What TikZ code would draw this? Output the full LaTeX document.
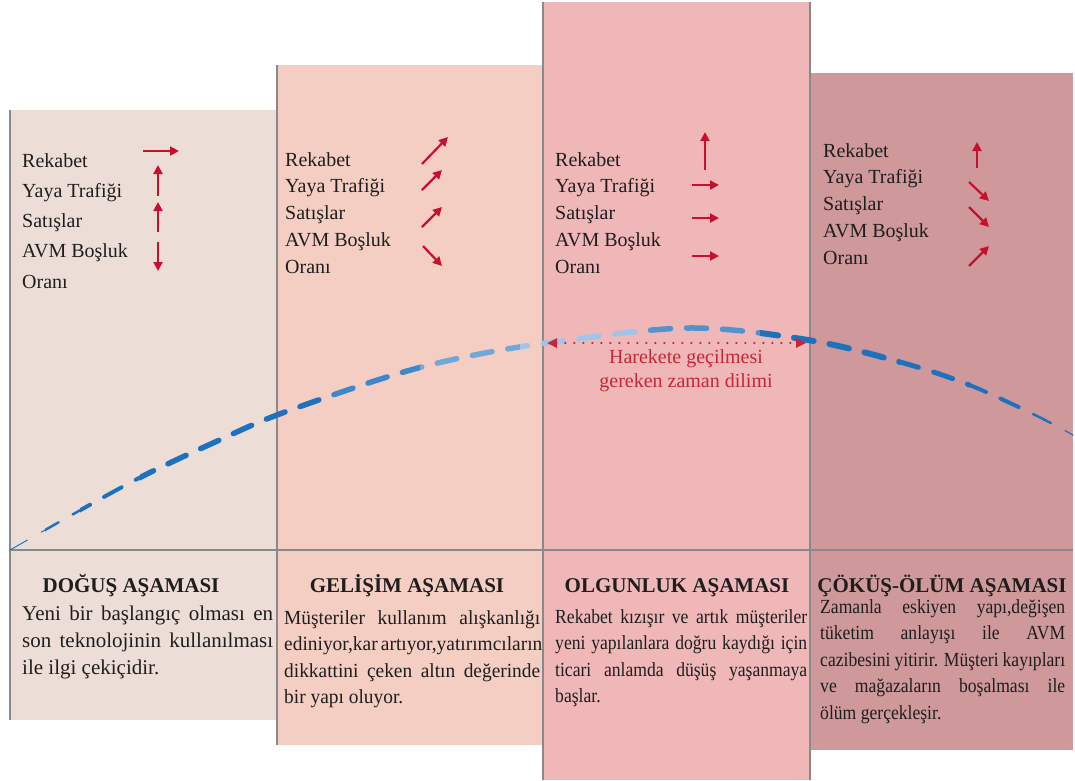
\documentclass[tikz,border=0pt]{standalone}
\usepackage{fontspec}
\setmainfont{Liberation Serif}
\newfontfamily\dar[FakeStretch=0.88]{Liberation Serif}
\newfontfamily\darorta[FakeStretch=0.97]{Liberation Serif}
\usepackage{xcolor}
\usetikzlibrary{arrows.meta}
\definecolor{asama1}{RGB}{237,221,215}
\definecolor{asama2}{RGB}{244,206,195}
\definecolor{asama3}{RGB}{240,183,184}
\definecolor{asama4}{RGB}{207,153,155}
\definecolor{cizgi}{RGB}{137,137,137}
\definecolor{kirmizi}{RGB}{200,16,46}
\definecolor{yazikirmizi}{RGB}{196,40,56}
\definecolor{mavikoyu}{RGB}{30,114,189}
\definecolor{maviacik}{RGB}{160,197,232}
\definecolor{yazi}{RGB}{30,30,30}

\begin{document}
\begin{tikzpicture}[x=1pt, y=-1pt, text=yazi,
    liste/.style={anchor=base west, inner sep=0pt, font=\fontsize{20}{24}\selectfont},
    baslik/.style={anchor=base, inner sep=0pt, font=\fontsize{21}{24}\selectfont\bfseries},
    metin/.style={anchor=north west, inner sep=0pt, align=justify, font=\dar\fontsize{20}{26.5}\selectfont},
    egilim/.style={kirmizi, line width=2.2pt, -{Triangle[length=9pt,width=9pt]}}]
    \useasboundingbox (0,0) rectangle (1075,780);
    % columns
    \fill[asama1] (10,110) rectangle (277,720);
    \fill[asama2] (277,65) rectangle (543,745);
    \fill[asama3] (543,2) rectangle (810,780);
    \fill[asama4] (810,73) rectangle (1073,750);
    \draw[cizgi, line width=2pt] (10,110) -- (10,720);
    \draw[cizgi, line width=2pt] (277,65) -- (277,745);
    \draw[cizgi, line width=2pt] (543,2) -- (543,780);
    \draw[cizgi, line width=2pt] (810,2) -- (810,780);
    \draw[cizgi, line width=2.5pt] (10,550) -- (1073,550);
    % life curve
    \path[save path=\egriyol] plot[smooth, tension=0.55] coordinates {(10,550) (77,512) (143,476) (213,443) (277,415) (387,377) (460,358) (547,343) (688,328) (808,340) (900,362) (967,384) (1033,414) (1073,435)};
    \foreach \xa/\xb/\kalin/\renk in {0/45/1pt/mavikoyu, 45/80/2.5pt/mavikoyu, 80/140/4pt/mavikoyu,
        140/330/5.5pt/mavikoyu, 330/420/5.5pt/mavikoyu!75!maviacik, 420/520/5.5pt/mavikoyu!35!maviacik,
        520/640/5.5pt/maviacik, 640/760/5.5pt/mavikoyu!60!maviacik, 760/900/6pt/mavikoyu,
        900/970/5pt/mavikoyu, 970/1030/4pt/mavikoyu, 1030/1060/2.5pt/mavikoyu, 1060/1075/1.2pt/mavikoyu}
    {
      \begin{scope}
        \clip (\xa,0) rectangle (\xb,780);
        \draw[use path=\egriyol, \renk, line width=\kalin, line cap=round, dash pattern=on 20pt off 16pt];
      \end{scope}
    }
    % time window
    \coordinate (zamanbas) at (547,343);
    \coordinate (zamanson) at (806,343);
    \draw[yazikirmizi, line width=2.4pt, line cap=round, dash pattern=on 0pt off 9pt,
      {Triangle[length=10pt,width=9pt]}-{Triangle[length=10pt,width=9pt]}] (zamanbas) -- (zamanson);
    \node[anchor=north, inner sep=0pt, align=center, text=yazikirmizi, font=\fontsize{20}{24}\selectfont]
      (zaman) at (686,349) {Harekete geçilmesi\\gereken zaman dilimi};
    % indicators
    \foreach \t [count=\i] in {Rekabet, Yaya Trafiği, Satışlar, AVM Boşluk, Oranı}
    {
      \node[liste] (dogus-\i) at (22,{167+(\i-1)*30.25}) {\t};
      \node[liste] (gelisim-\i) at (285,{166+(\i-1)*26.75}) {\t};
      \node[liste] (olgunluk-\i) at (555,{166+(\i-1)*26.75}) {\t};
      \node[liste] (cokus-\i) at (823,{157+(\i-1)*26.75}) {\t};
    }
    \foreach \xa/\ya/\xb/\yb in {143/151/179/151, 158/196/158/165, 158/232/158/202, 158/242/158/271,
        422/164/448/137, 422/190/442/170, 422/227/442/207, 423/246/442/266,
        705/170/705/132, 692/185/719/185, 692/218/719/218, 692/256/719/256,
        977/168/977/142, 969/182/989/201, 969/207/989/227, 969/266/989/246}
      \draw[egilim] (\xa,\ya) -- (\xb,\yb);
    % stages
    \node[baslik] (b1) at (131,592) {DOĞUŞ AŞAMASI};
    \node[baslik] (b2) at (407,592) {GELİŞİM AŞAMASI};
    \node[baslik] (b3) at (677,592) {OLGUNLUK AŞAMASI};
    \node[baslik] (b4) at (942,592) {ÇÖKÜŞ-ÖLÜM AŞAMASI};
    \node[metin, text width=251pt, font=\rmfamily\fontsize{21}{27}\selectfont] (m1) at (22,606)
      {Yeni bir başlangıç olması en\linebreak son teknolojinin kullanılması\linebreak ile ilgi çekiçidir.};
    \node[metin, text width=256pt, font=\darorta\fontsize{20}{26.5}\selectfont] (m2) at (284,610)
      {Müşteriler kullanım alışkanlığı\linebreak ediniyor,kar artıyor,yatırımcıların\linebreak dikkattini çeken altın değerinde\linebreak bir yapı oluyor.};
    \node[metin, text width=252pt] (m3) at (555,609)
      {Rekabet kızışır ve artık müşteriler\linebreak yeni yapılanlara doğru kaydığı için\linebreak ticari anlamda düşüş yaşanmaya\linebreak başlar.};
    \node[metin, text width=245pt] (m4) at (820,599)
      {Zamanla eskiyen yapı,değişen\linebreak tüketim anlayışı ile AVM\linebreak cazibesini yitirir. Müşteri kayıpları\linebreak ve mağazaların boşalması ile\linebreak ölüm gerçekleşir.};
  \end{tikzpicture}
\end{document}
